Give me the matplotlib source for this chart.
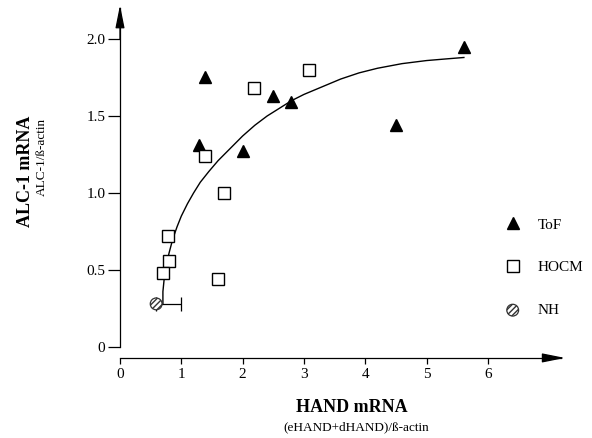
import numpy as np
import matplotlib
matplotlib.use('Agg')
import matplotlib.pyplot as plt

plt.rcParams['font.family'] = ['Liberation Serif', 'DejaVu Serif']

# ToF (triangles)
tof_x = [1.39, 1.29, 2.49, 2.79, 2.00, 5.61, 4.51]
tof_y = [1.75, 1.31, 1.63, 1.59, 1.27, 1.95, 1.44]

# HOCM (open squares)
hocm_x = [2.19, 3.09, 1.39, 1.70, 0.79, 0.80, 0.70, 1.60]
hocm_y = [1.68, 1.80, 1.24, 1.00, 0.72, 0.56, 0.48, 0.44]

# NH (hatched circle) with one-sided x error
nh_x = [0.59]
nh_y = [0.28]
nh_xerr_hi = [0.41]

# fitted curve
fit_x = [0.70, 0.70, 0.72, 0.75, 0.80, 0.86, 0.93, 1.00, 1.10, 1.20, 1.31,
         1.45, 1.60, 1.80, 2.00, 2.20, 2.40, 2.60, 2.80, 3.00, 3.30, 3.60,
         3.90, 4.20, 4.60, 5.00, 5.30, 5.61]
fit_y = [0.28, 0.36, 0.44, 0.52, 0.61, 0.70, 0.78, 0.85, 0.93, 1.00, 1.07,
         1.14, 1.21, 1.29, 1.37, 1.44, 1.50, 1.55, 1.60, 1.64, 1.69, 1.74,
         1.78, 1.81, 1.84, 1.86, 1.87, 1.88]

xticks = [0, 1, 2, 3, 4, 5, 6]
yticks = [0, 0.5, 1.0, 1.5, 2.0]
ytick_labels = ['0', '0.5', '1.0', '1.5', '2.0']

W, H = 592, 438
fig = plt.figure(figsize=(W / 100, H / 100), dpi=100)
ax = fig.add_axes([120 / W, (H - 362.4) / H, 447.5 / W, 361.9 / H])
ax.set_xlim(0, 7.3)
ax.set_ylim(-0.1, 2.25)

xaxis_y = -0.071
ax.spines['top'].set_visible(False)
ax.spines['right'].set_visible(False)
ax.spines['left'].set_position(('data', 0))
ax.spines['left'].set_bounds(0, 2.2)
ax.spines['bottom'].set_position(('data', xaxis_y))
ax.spines['bottom'].set_bounds(0, 7.2)
for s in ['left', 'bottom']:
    ax.spines[s].set_linewidth(0.9)

arrow = dict(arrowstyle='-|>,head_length=1.4,head_width=0.28', color='black',
             lw=0.9, shrinkA=0, shrinkB=0)
ax.annotate('', xy=(0, 2.22), xytext=(0, 2.0), arrowprops=arrow,
            annotation_clip=False)
ax.annotate('', xy=(7.26, xaxis_y), xytext=(6.9, xaxis_y), arrowprops=arrow,
            annotation_clip=False)

ax.set_xticks(xticks)
ax.set_yticks(yticks)
ax.set_yticklabels(ytick_labels)
ax.tick_params(axis='y', length=8.5, width=0.9, pad=2, labelsize=11)
ax.tick_params(axis='x', length=4.5, width=0.9, pad=3, labelsize=11)

ax.plot(fit_x, fit_y, color='black', lw=1.0, zorder=2)

ax.errorbar(nh_x, nh_y, xerr=[[0], nh_xerr_hi], fmt='none', ecolor='black',
            elinewidth=0.9, capsize=4.7, capthick=0.9, zorder=2)

h_tof, = ax.plot(tof_x, tof_y, '^', color='black', ms=9, ls='none',
                 zorder=3, label='ToF')
h_hocm, = ax.plot(hocm_x, hocm_y, 's', mfc='white', mec='black', mew=1.0,
                  ms=8, ls='none', zorder=3, label='HOCM')
h_nh = ax.scatter(nh_x, nh_y, s=72, facecolor='white', edgecolors='#333333',
                  hatch='//////', linewidths=0.9, zorder=4, label='NH')

ax.legend(handles=[h_tof, h_hocm, h_nh], frameon=False, fontsize=11,
          loc='upper left', bbox_to_anchor=(0.84, 0.42), labelspacing=1.9,
          handletextpad=1.05, handlelength=1.2, borderpad=0)

fig.text(26 / W, 1 - 171 / H, 'ALC-1 mRNA', rotation=90, fontsize=13,
         fontweight='bold', ha='center', va='center')
fig.text(42 / W, 1 - 157 / H, 'ALC-1/ß-actin', rotation=90, fontsize=9.5,
         ha='center', va='center')
fig.text(352 / W, 1 - 408 / H, 'HAND mRNA', fontsize=13, fontweight='bold',
         ha='center', va='center')
fig.text(356 / W, 1 - 427 / H, '(eHAND+dHAND)/ß-actin', fontsize=9.5,
         ha='center', va='center')

fig.savefig('out.png', dpi=100)
